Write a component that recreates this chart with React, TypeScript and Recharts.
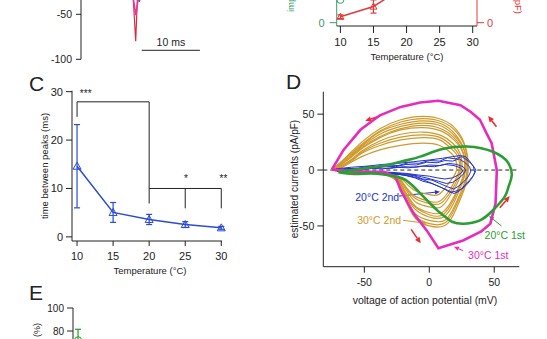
import React from "react";
import {
  LineChart,
  Line,
  XAxis,
  YAxis,
  ErrorBar,
  ReferenceLine,
  ReferenceDot,
  ScatterChart,
  Scatter,
} from "recharts";

const FONT = "'Liberation Sans', Arial, Helvetica, sans-serif";
const INK = "#222";
const BLUE = "#2a4cd0";
const D_BLUE = "#2233cc";
const BROWN = "#cf9a2c";
const MAGENTA = "#e52cbc";
const GREEN = "#2a9d33";
const ARROW_RED = "#ee2a2a";
const TR_GREEN = "#3a9c6c";
const TR_RED = "#e23a3a";

// ---- top-left fragment: voltage traces (ms, mV)
const redTrace = [[0, -20], [5, -22], [8.8, -28], [9.02, -34], [9.43, -80], [9.71, -34], [10.1, -27], [14, -22], [22, -20]];
const pinkTrace = [[0, -22], [8.85, -28], [9.05, -34], [9.45, -51], [9.83, -34], [10.1, -28], [22, -22]];
const blueTrace = [[9.8, -28], [10.05, -36], [10.25, -33], [10.45, -28]];

// ---- top-right fragment
const temps = [10, 15, 20, 25, 30];
const capRed = [1.0, 2.7, 6.2, 8.6, 10.8];
const capRedErr = [0.3, 1.1, 1.0, 0.9, 0.8];
const impGreen = [3.8, 8.5, 9.6, 10.4, 11.2];

// ---- panel C: time between peaks (ms)
const peakGap = [14.6, 5.05, 3.6, 2.55, 1.87];
const peakGapErr = [8.6, 2.05, 1.05, 0.6, 0.3];

// ---- panel E
const survival = [72, 58, 44, 33, 25];
const survivalErr = [9.5, 6, 5, 4, 4];

// ---- panel D: current vs voltage loops ([mV, pA/pF])
const mag1st = [[-75, 0.5], [-60, -1], [-45, -1.5], [-35, -1.5], [-26, -6], [-22, -18], [-12, -39], [-2, -54], [7, -70], [26, -63], [40, -55], [47, -48], [51, -30], [52, 0], [48, 24], [44, 33], [39, 45], [32, 52], [24, 58], [7, 62], [-7, 60.5], [-22, 56.5], [-38, 49], [-53, 36], [-66, 18], [-75, 0.5]];
const green1st = [[-70, -2], [-50, 1.5], [-32, 4.5], [-20, 8], [-7, 12], [11, 19], [29, 21], [40, 19.5], [49, 16.4], [56, 12], [61, 6], [63.5, -4.5], [61, -15], [58, -24], [49, -36], [39, -45], [26, -48], [18, -46.5], [13.5, -43], [7, -37], [0.8, -30], [-6, -22], [-12, -15], [-18, -9], [-25, -6], [-35, -4], [-45, -3], [-58, -3.5], [-70, -2]];
const brown2nd = [
  [[-75, 0], [-70, 5], [-62, 14], [-52, 25], [-38, 37], [-22, 45], [-5, 48], [10, 45], [21, 36], [28, 20], [30, 0], [27, -17], [21, -34], [13, -49], [0, -50], [-10, -44], [-16, -33], [-21, -20], [-26, -9], [-40, -3], [-60, -2], [-75, 0]],
  [[-75, 0], [-70, 5], [-62, 13], [-52, 23], [-38, 35], [-22, 43], [-5, 46], [10, 43], [21, 34], [28, 19], [29.5, 0], [26.5, -16], [20.5, -32], [12.5, -47], [0, -48], [-10, -42], [-16, -31], [-21, -19], [-26, -8], [-40, -3], [-60, -2], [-75, 0]],
  [[-75, 0], [-70, 4.5], [-62, 12], [-52, 22], [-38, 34], [-22, 41], [-5, 44], [10, 41], [20, 32], [27, 18], [29, 0], [26, -15], [20, -31], [12, -45], [0, -45], [-10, -40], [-16, -30], [-21, -18], [-26, -8], [-40, -3], [-60, -2], [-75, 0]],
  [[-74, 0], [-69, 4.5], [-61, 12], [-52, 21], [-38, 32], [-22, 39], [-5, 42], [10, 39], [20, 30], [27, 17], [28, 0], [25, -13], [19, -29], [11, -42], [0, -42], [-10, -36], [-16, -27], [-21, -16], [-26, -7], [-40, -3], [-60, -2], [-74, 0]],
  [[-74, 0], [-69, 4], [-61, 11], [-52, 20], [-38, 30], [-22, 37], [-5, 40], [9, 37], [19, 29], [26, 16], [27.5, 0], [24.5, -12], [18.5, -27], [10.5, -40], [0, -40], [-10, -34], [-16, -26], [-21, -15], [-26, -7], [-40, -3], [-60, -2], [-74, 0]],
  [[-74, 0], [-69, 4], [-61, 10.5], [-52, 19], [-38, 29], [-22, 36], [-5, 38], [9, 35], [19, 27], [26, 15], [27, 0], [24, -12], [18, -26], [10, -38], [0, -38], [-10, -33], [-16, -24], [-21, -14], [-26, -6], [-40, -3], [-60, -2], [-74, 0]],
  [[-73, 0], [-68, 3.5], [-60, 9.5], [-52, 17], [-38, 26], [-22, 32], [-5, 34], [9, 31], [18, 24], [24, 14], [25, 0], [22, -11], [16, -23], [9, -33], [0, -33], [-10, -29], [-16, -21], [-21, -12], [-26, -5], [-40, -3], [-60, -2], [-73, 0]],
  [[-73, 0], [-68, 3.5], [-60, 9], [-52, 16], [-38, 24], [-22, 29.5], [-5, 31.5], [8.5, 29], [17, 22], [23, 13], [24, 0], [21, -10], [15.5, -21], [8.5, -30], [0, -30], [-10, -26], [-16, -19], [-21, -11], [-26, -5], [-40, -3], [-60, -2], [-73, 0]],
  [[-73, 0], [-68, 3], [-60, 8], [-52, 15], [-38, 22], [-22, 27], [-5, 29], [8, 27], [16, 20], [22, 12], [23, 0], [20, -9], [15, -19], [8, -28], [0, -28], [-10, -24], [-16, -18], [-21, -10], [-26, -5], [-40, -3], [-60, -2], [-73, 0]],
  [[-72, 0], [-67, 2.5], [-60, 7], [-52, 12], [-38, 18], [-22, 22], [-5, 24], [8, 22], [15, 17], [20, 10], [21, 0], [18, -7], [13, -15], [7, -22], [0, -22], [-10, -19], [-16, -14], [-21, -8], [-26, -4], [-40, -3], [-60, -2], [-72, 0]],
];
const blue2nd = [
  [[-72, 0], [-64, 1.5], [-56, 1], [-48, 3], [-40, 2.5], [-32, 4.5], [-24, 4], [-16, 6.5], [-8, 6], [0, 8.5], [8, 8], [14, 11], [20, 10], [25, 12], [29, 9], [33, 5], [36, 0], [34, -5], [31, -9], [27, -14], [23, -19], [19, -21], [14, -18], [8, -15], [2, -12], [-5, -10], [-11, -7], [-18, -5], [-26, -3.5], [-36, -2.5], [-48, -2], [-60, -1.5], [-72, 0]],
  [[-71, -1], [-62, 1], [-52, 2], [-42, 1.5], [-34, 3.5], [-26, 3], [-18, 5], [-10, 4.5], [-2, 7], [6, 6.5], [12, 8.5], [18, 8], [23, 10], [27, 7], [31, 3], [32, -1], [30, -6], [27, -10], [23, -14], [19, -17], [14, -15], [8, -12], [2, -9], [-5, -8], [-12, -5], [-20, -4], [-30, -2.5], [-42, -2], [-55, -1.5], [-71, -1]],
  [[-70, 0], [-60, 1], [-50, 0.5], [-40, 2], [-30, 1.5], [-20, 3], [-10, 2.5], [0, 4.5], [8, 4], [15, 6], [21, 5], [26, 3], [28, 0], [26, -4], [22, -8], [18, -11], [13, -12], [7, -10], [1, -8], [-6, -6], [-14, -4], [-24, -3], [-36, -2], [-50, -1.5], [-70, 0]],
  [[-69, -1], [-58, 0.5], [-46, 1.5], [-36, 1], [-26, 2.5], [-16, 2], [-6, 3.5], [4, 3], [12, 5], [19, 4], [24, 2], [26, -1], [23, -4], [18, -7], [12, -8], [6, -7], [0, -5.5], [-8, -4.5], [-18, -3], [-30, -2], [-45, -1.5], [-69, -1]],
  [[-72, 1], [-60, 2.5], [-48, 3.5], [-36, 5], [-24, 6], [-12, 7.5], [0, 9], [10, 10.5], [18, 12], [24, 13], [28, 12], [31, 8], [34, 3], [35, -2], [33, -7], [29, -13], [25, -17], [20, -19], [16, -20], [10, -16], [4, -13], [-4, -9], [-12, -6], [-22, -4], [-35, -3], [-50, -2], [-72, 1]],
];

// direction arrows on the loops (tail -> head) and label pointers
const redArrows = [
  [[-37.8, 48.3], [-49.4, 44.1]],
  [[51.7, 38.8], [45.3, 48.3]],
  [[54.3, -33.8], [61.9, -23.3]],
  [[-14, -53.1], [-6.6, -65.6]],
];
const pointers = [
  { from: [-23.3, -23.3], to: [8.2, -19.4], color: D_BLUE },
  { from: [-20.2, -45], to: [-2, -47.7], color: BROWN },
  { from: [55.6, -50.1], to: [46, -41.2], color: GREEN },
  { from: [26.1, -72.2], to: [19, -68.7], color: MAGENTA },
];
const loopLabels = [
  { text: "20°C 2nd", at: [-40.1, -24.4], color: D_BLUE },
  { text: "30°C 2nd", at: [-38.6, -45.4], color: BROWN },
  { text: "20°C 1st", at: [58.1, -58.8], color: GREEN },
  { text: "30°C 1st", at: [45.4, -76.1], color: MAGENTA },
];

const xy = (arr: number[][]) => arr.map(([x, y]) => ({ x, y }));
const tv = (arr: number[][]) => arr.map(([t, v]) => ({ t, v }));
const NoDot = () => <g />;

const arrowShape = (color: string, w: number, head: number) => (p: any) => {
  const { x1, y1, x2, y2 } = p;
  const dx = x2 - x1;
  const dy = y2 - y1;
  const L = Math.hypot(dx, dy) || 1;
  const ux = dx / L;
  const uy = dy / L;
  const bx = x2 - ux * head;
  const by = y2 - uy * head;
  const hw = head * 0.45;
  return (
    <g>
      <line x1={x1} y1={y1} x2={bx} y2={by} stroke={color} strokeWidth={w} />
      <path d={`M${x2},${y2}L${bx - uy * hw},${by + ux * hw}L${bx + uy * hw},${by - ux * hw}Z`} fill={color} />
    </g>
  );
};

const textShape = (label: string, color: string, size: number) => (p: any) => (
  <text x={p.cx} y={p.cy + size * 0.35} fill={color} fontSize={size} textAnchor="middle" fontFamily={FONT}>
    {label}
  </text>
);

const triDot = (color: string, s: number) => (p: any) => {
  const { cx, cy, index } = p;
  if (cx == null || cy == null) return <g key={index} />;
  return (
    <path
      key={index}
      d={`M${cx},${cy - s}L${cx + s},${cy + s * 0.75}L${cx - s},${cy + s * 0.75}Z`}
      fill="none"
      stroke={color}
      strokeWidth={1}
    />
  );
};

const circDot = (color: string, r: number) => (p: any) => {
  const { cx, cy, index } = p;
  if (cx == null || cy == null) return <g key={index} />;
  return <circle key={index} cx={cx} cy={cy} r={r} fill="none" stroke={color} strokeWidth={1} />;
};

const tickStyle = (size: number, fill = INK) => ({ fill, fontSize: size, fontFamily: FONT });

function Traces() {
  return (
    <LineChart width={230} height={160} margin={{ top: 14.3, right: 21.4, bottom: 10.7, left: 41 }}>
      <XAxis type="number" dataKey="t" domain={[0, 22]} hide allowDataOverflow />
      <YAxis
        type="number"
        domain={[-100, 50]}
        ticks={[-100, -50]}
        width={40}
        stroke={INK}
        tickSize={5}
        tickMargin={4}
        tick={tickStyle(10.5)}
      />
      <Line data={tv(redTrace)} dataKey="v" stroke="#e0283c" strokeWidth={1.2} dot={false} isAnimationActive={false} />
      <Line data={tv(pinkTrace)} dataKey="v" stroke="#e8349e" strokeWidth={1.6} dot={false} isAnimationActive={false} />
      <Line data={tv(blueTrace)} dataKey="v" stroke="#2a3ccc" strokeWidth={1} dot={false} isAnimationActive={false} />
      <ReferenceLine segment={[{ x: 10.47, y: -90 }, { x: 20.5, y: -90 }]} stroke={INK} strokeWidth={1} ifOverflow="visible" />
      <ReferenceDot x={15.5} y={-81.5} ifOverflow="visible" shape={textShape("10 ms", INK, 10.5)} />
    </LineChart>
  );
}

function TempFragment() {
  const data = temps.map((t, i) => ({ t, r: capRed[i], re: capRedErr[i], g: impGreen[i] }));
  return (
    <LineChart width={277} height={150} data={data} margin={{ top: 30.7, right: 20, bottom: 4, left: 10 }}>
      <XAxis
        type="number"
        dataKey="t"
        domain={[9.44, 30.65]}
        ticks={temps}
        height={40}
        stroke={INK}
        tickSize={7}
        tickMargin={5}
        tick={tickStyle(11)}
      />
      <YAxis yAxisId="l" domain={[-0.55, 12]} ticks={[0]} width={56.7} stroke={TR_GREEN} tickSize={7} tickMargin={5} tick={tickStyle(11, TR_GREEN)} />
      <YAxis yAxisId="r" orientation="right" domain={[-0.55, 12]} ticks={[0]} width={50} stroke={TR_RED} tickSize={7} tickMargin={3} tick={tickStyle(11, TR_RED)} />
      <Line yAxisId="l" dataKey="g" stroke={TR_GREEN} strokeWidth={1.2} dot={circDot(TR_GREEN, 3.5)} isAnimationActive={false} />
      <Line yAxisId="r" dataKey="r" stroke={TR_RED} strokeWidth={1.5} dot={triDot(TR_RED, 3.5)} isAnimationActive={false}>
        <ErrorBar dataKey="re" width={3} stroke={TR_RED} strokeWidth={1.2} direction="y" />
      </Line>
    </LineChart>
  );
}

function PanelC() {
  const data = temps.map((t, i) => ({ t, v: peakGap[i], e: peakGapErr[i] }));
  const seg = (a: number[], b: number[], k: string) => (
    <ReferenceLine key={k} segment={[{ x: a[0], y: a[1] }, { x: b[0], y: b[1] }]} stroke={INK} strokeWidth={1} ifOverflow="visible" />
  );
  return (
    <LineChart width={240} height={220} data={data} margin={{ top: 20.7, right: 18, bottom: 19, left: 32 }}>
      <XAxis type="number" dataKey="t" domain={[9.3, 30.1]} ticks={temps} height={30} stroke={INK} tickSize={5} tickMargin={6} tick={tickStyle(11)} />
      <YAxis type="number" domain={[-0.85, 30.2]} ticks={[0, 10, 20, 30]} width={40} stroke={INK} tickSize={6} tickMargin={3} tick={tickStyle(11)} />
      {seg([10, 24.8], [10, 27.9], "a")}
      {seg([10, 27.9], [20, 27.9], "b")}
      {seg([20, 27.9], [20, 6.9], "c")}
      {seg([20, 10], [30, 10], "d")}
      {seg([25, 10], [25, 5.9], "e")}
      {seg([30, 10], [30, 5.9], "f")}
      <ReferenceDot x={11.2} y={29.7} ifOverflow="visible" shape={textShape("***", INK, 10)} />
      <ReferenceDot x={25.1} y={12.1} ifOverflow="visible" shape={textShape("*", INK, 10)} />
      <ReferenceDot x={30.3} y={12.1} ifOverflow="visible" shape={textShape("**", INK, 10)} />
      <Line dataKey="v" stroke={BLUE} strokeWidth={1.5} dot={triDot(BLUE, 4)} isAnimationActive={false}>
        <ErrorBar dataKey="e" width={3} stroke={BLUE} strokeWidth={1.2} direction="y" />
      </Line>
    </LineChart>
  );
}

function PanelD() {
  return (
    <ScatterChart width={277} height={240} margin={{ top: 21.7, right: 27.7, bottom: 13.3, left: 13.3 }}>
      <XAxis type="number" dataKey="x" domain={[-81.6, 69.3]} ticks={[-50, 0, 50]} height={30} stroke={INK} tickSize={6} tickMargin={6} tick={tickStyle(10.5)} />
      <YAxis type="number" dataKey="y" domain={[-86.5, 70.1]} ticks={[-50, 0, 50]} width={40} stroke={INK} tickSize={6} tickMargin={3} tick={tickStyle(10.5)} />
      <ReferenceLine y={0} stroke={INK} strokeWidth={1} strokeDasharray="4 3" />
      {brown2nd.map((loop, i) => (
        <Scatter
          key={`b${i}`}
          data={xy(loop)}
          line={{ stroke: BROWN, strokeWidth: 1.2 }}
          lineJointType="natural"
          shape={NoDot}
          isAnimationActive={false}
        />
      ))}
      {blue2nd.map((loop, i) => (
        <Scatter key={`u${i}`} data={xy(loop)} line={{ stroke: D_BLUE, strokeWidth: 1 }} shape={NoDot} isAnimationActive={false} />
      ))}
      <Scatter data={xy(mag1st)} line={{ stroke: MAGENTA, strokeWidth: 2.6 }} shape={NoDot} isAnimationActive={false} />
      <Scatter
        data={xy(green1st)}
        line={{ stroke: GREEN, strokeWidth: 2.6 }}
        lineJointType="natural"
        shape={NoDot}
        isAnimationActive={false}
      />
      {redArrows.map(([a, b], i) => (
        <ReferenceLine key={`r${i}`} segment={[{ x: a[0], y: a[1] }, { x: b[0], y: b[1] }]} ifOverflow="visible" shape={arrowShape(ARROW_RED, 1.6, 6)} />
      ))}
      {pointers.map((p, i) => (
        <ReferenceLine key={`p${i}`} segment={[{ x: p.from[0], y: p.from[1] }, { x: p.to[0], y: p.to[1] }]} ifOverflow="visible" shape={arrowShape(p.color, 1, 5)} />
      ))}
      {loopLabels.map((l, i) => (
        <ReferenceDot key={`l${i}`} x={l.at[0]} y={l.at[1]} ifOverflow="visible" shape={textShape(l.text, l.color, 10.5)} />
      ))}
    </ScatterChart>
  );
}

function PanelE() {
  const data = temps.map((t, i) => ({ t, v: survival[i], e: survivalErr[i] }));
  return (
    <LineChart width={240} height={200} data={data} margin={{ top: 18, right: 17, bottom: 37, left: 33 }}>
      {/* x axis sits below the visible crop */}
      <XAxis type="number" dataKey="t" domain={[9.3, 30.1]} ticks={temps} height={30} stroke={INK} tickSize={5} tick={false} />
      <YAxis type="number" domain={[0, 100]} ticks={[80, 100]} width={40} stroke={INK} tickSize={6} tickMargin={3} tick={tickStyle(10)} />
      <Line dataKey="v" stroke="#22a022" strokeWidth={1.5} dot={circDot("#22a022", 3.5)} isAnimationActive={false}>
        <ErrorBar dataKey="e" width={3} stroke="#22a022" strokeWidth={1.2} direction="y" />
      </Line>
    </LineChart>
  );
}

export default function App() {
  const abs = (left: number, top: number): React.CSSProperties => ({ position: "absolute", left, top });
  return (
    <div
      style={{
        position: "absolute",
        left: 0,
        top: 0,
        width: 547,
        height: 339,
        overflow: "hidden",
        background: "#fff",
        fontFamily: FONT,
      }}
    >
      <div style={abs(0, -90)}>
        <Traces />
      </div>
      <div style={abs(270, -80)}>
        <TempFragment />
      </div>
      <div style={abs(0, 70)}>
        <PanelC />
      </div>
      <div style={abs(270, 70)}>
        <PanelD />
      </div>
      <div style={abs(0, 290)}>
        <PanelE />
      </div>
      <svg width={547} height={339} style={{ position: "absolute", left: 0, top: 0, pointerEvents: "none" }} fontFamily={FONT}>
        <text x={29} y={91} fontSize={21} fill={INK}>C</text>
        <text x={286} y={89} fontSize={21} fill={INK}>D</text>
        <text x={29} y={300} fontSize={21} fill={INK}>E</text>
        <text x={44} y={166} fontSize={9.5} fill={INK} textAnchor="middle" dominantBaseline="central" transform="rotate(-90 44 166)">
          time between peaks (ms)
        </text>
        <text x={150} y={273.5} fontSize={9.5} fill={INK} textAnchor="middle">Temperature (°C)</text>
        <text x={294} y={179} fontSize={10} fill={INK} textAnchor="middle" dominantBaseline="central" transform="rotate(-90 294 179)">
          estimated currents (pA/pF)
        </text>
        <text x={425} y={303.5} fontSize={10.5} fill={INK} textAnchor="middle">voltage of action potential (mV)</text>
        <text x={407} y={59.5} fontSize={9.5} fill={INK} textAnchor="middle">Temperature (°C)</text>
        <text x={290} y={12} fontSize={9.5} fill={TR_GREEN} textAnchor="start" dominantBaseline="central" transform="rotate(-90 290 12)">
          impedance (MΩ)
        </text>
        <text x={518} y={14} fontSize={9.5} fill={TR_RED} textAnchor="end" dominantBaseline="central" transform="rotate(90 518 14)">
          capacitance (pF)
        </text>
        <text x={37} y={323} fontSize={9} fill={INK} textAnchor="end" dominantBaseline="central" transform="rotate(-90 37 323)">
          survival (%)
        </text>
      </svg>
    </div>
  );
}
